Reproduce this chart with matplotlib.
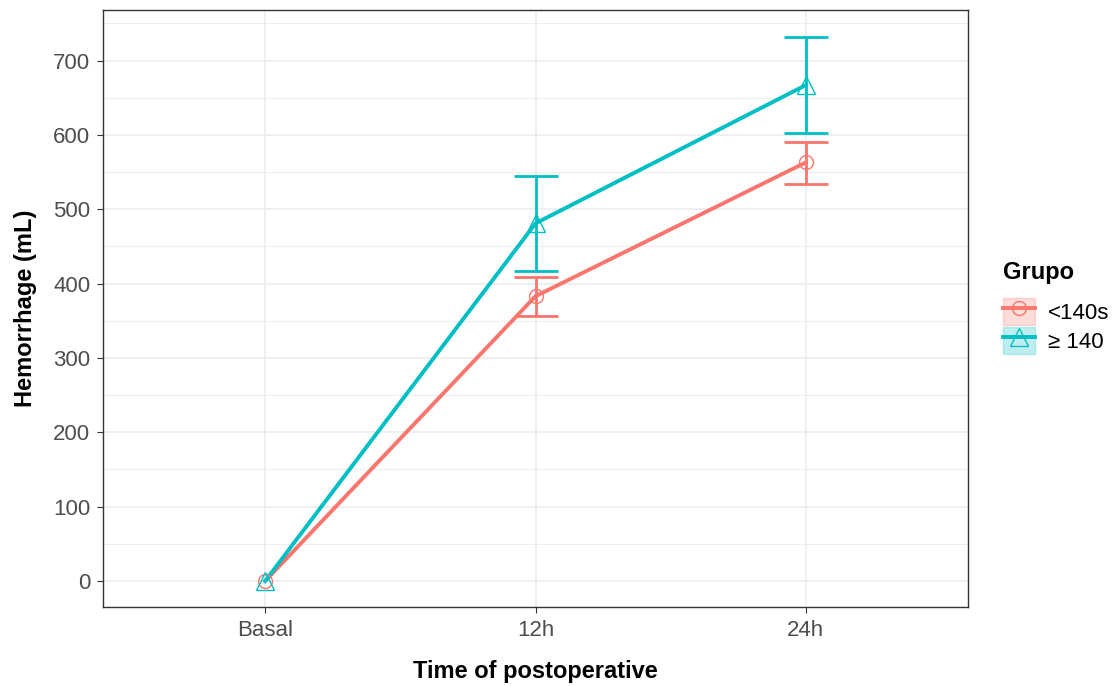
import matplotlib.pyplot as plt
from matplotlib.lines import Line2D
from matplotlib.patches import Patch
from matplotlib.legend_handler import HandlerTuple
from matplotlib.ticker import MultipleLocator

plt.rcParams["font.family"] = ["Liberation Sans", "DejaVu Sans"]

times = ["Basal", "12h", "24h"]
groups = ["<140s", "≥ 140"]
colors = ["#F8766D", "#00BFC4"]
markers = ["o", "^"]

mean_low = [0, 383, 563]
lower_low = [0, 356, 534]
upper_low = [0, 409, 591]

mean_high = [0, 481, 667]
lower_high = [0, 417, 603]
upper_high = [0, 545, 732]

means = [mean_low, mean_high]
lowers = [lower_low, lower_high]
uppers = [upper_low, upper_high]

fig = plt.figure(figsize=(11.17, 6.86), dpi=100)
ax = fig.add_axes([103 / 1117, 1 - 607 / 686, 865 / 1117, 597 / 686])

x = list(range(len(times)))
handles = []
for i, g in enumerate(groups):
    c = colors[i]
    m = means[i]
    # only draw bars with a non-zero spread (Basal has none)
    xe = [k for k in x if uppers[i][k] > lowers[i][k]]
    me = [m[k] for k in xe]
    err = [[m[k] - lowers[i][k] for k in xe], [uppers[i][k] - m[k] for k in xe]]
    ax.errorbar(xe, me, yerr=err, fmt="none", ecolor=c, elinewidth=2,
                capsize=16, capthick=2, zorder=3)
    ax.plot(x, m, color=c, linewidth=2.8, zorder=4)
    ax.plot(x, m, linestyle="none", marker=markers[i], markersize=13 if i else 10,
            markerfacecolor="none", markeredgecolor=c, markeredgewidth=1, zorder=5)
    key = (Patch(facecolor=c, alpha=0.25, edgecolor=c, linewidth=1),
           Line2D([], [], color=c, linewidth=2.8, marker=markers[i],
                  markersize=13 if i else 10, markerfacecolor="none",
                  markeredgecolor=c, markeredgewidth=1))
    handles.append(key)

ax.set_xlim(-0.6, 2.6)
ax.set_ylim(-35, 768)
ax.set_xticks(x)
ax.set_xticklabels(times)
ax.yaxis.set_major_locator(MultipleLocator(100))
ax.yaxis.set_minor_locator(MultipleLocator(50))
ax.grid(True, which="major", color="#EBEBEB", linewidth=1.1, zorder=0)
ax.grid(True, which="minor", axis="y", color="#EBEBEB", linewidth=0.6, zorder=0)
ax.set_axisbelow(True)
for s in ax.spines.values():
    s.set_color("#333333")
    s.set_linewidth(1)
ax.tick_params(which="major", colors="#333333", labelcolor="#4D4D4D",
               labelsize=16, length=4, pad=5)
ax.tick_params(which="minor", length=0)

ax.set_xlabel("Time of postoperative", fontsize=17, fontweight="bold", labelpad=14)
ax.set_ylabel("Hemorrhage (mL)", fontsize=17, fontweight="bold", labelpad=12)

leg = fig.legend(handles, groups, title="Grupo", loc="upper left",
                 bbox_to_anchor=(985 / 1117, 1 - 243 / 686), frameon=False,
                 handler_map={tuple: HandlerTuple(ndivide=1)},
                 handlelength=1.45, handleheight=1.55, handletextpad=0.6,
                 labelspacing=0.05, borderpad=0.3, fontsize=16, title_fontsize=17)
leg.get_title().set_fontweight("bold")
leg._legend_box.align = "left"
leg._legend_box.sep = 10

fig.savefig("out.png", dpi=100)
